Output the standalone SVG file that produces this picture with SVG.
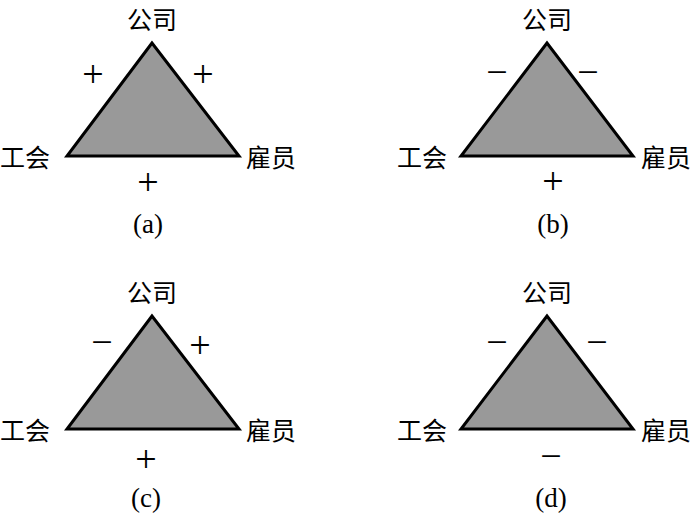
<svg xmlns="http://www.w3.org/2000/svg" width="700" height="518" viewBox="0 0 700 518">
<style>
.tri{fill:#999;stroke:#000;stroke-width:3;stroke-linejoin:miter}
.cn{font-family:"Noto Sans CJK SC","Liberation Serif",sans-serif;font-size:25px;fill:#000}
.sg{font-family:"Liberation Serif",serif;font-size:38px;fill:#000;text-anchor:middle}
.cap{font-family:"Liberation Serif",serif;font-size:27px;fill:#000;text-anchor:middle}
</style>
<rect width="700" height="518" fill="#fff"/>
<g id="a">
<polygon class="tri" points="152,43 67,156 239,156"/>
<text class="cn" x="152" y="29" text-anchor="middle">公司</text>
<text class="cn" x="0" y="167">工会</text>
<text class="cn" x="246" y="167">雇员</text>
<text class="sg" x="93" y="87">+</text>
<text class="sg" x="203" y="87">+</text>
<text class="sg" x="148" y="195">+</text>
<text class="cap" x="148" y="233">(a)</text>
</g>
<g id="b">
<polygon class="tri" points="547,43 461,156 633,156"/>
<text class="cn" x="547" y="29" text-anchor="middle">公司</text>
<text class="cn" x="397" y="167">工会</text>
<text class="cn" x="641" y="167">雇员</text>
<text class="sg" x="497" y="85">−</text>
<text class="sg" x="588" y="85">−</text>
<text class="sg" x="553" y="194">+</text>
<text class="cap" x="553" y="233">(b)</text>
</g>
<g id="c">
<polygon class="tri" points="152,316 67,429 239,429"/>
<text class="cn" x="152" y="302" text-anchor="middle">公司</text>
<text class="cn" x="0" y="440">工会</text>
<text class="cn" x="246" y="440">雇员</text>
<text class="sg" x="102" y="355">−</text>
<text class="sg" x="200" y="358">+</text>
<text class="sg" x="146" y="472">+</text>
<text class="cap" x="146" y="507">(c)</text>
</g>
<g id="d">
<polygon class="tri" points="547,316 461,429 633,429"/>
<text class="cn" x="547" y="302" text-anchor="middle">公司</text>
<text class="cn" x="397" y="440">工会</text>
<text class="cn" x="641" y="440">雇员</text>
<text class="sg" x="497" y="355">−</text>
<text class="sg" x="597" y="355">−</text>
<text class="sg" x="551" y="469">−</text>
<text class="cap" x="551" y="507">(d)</text>
</g>
</svg>
